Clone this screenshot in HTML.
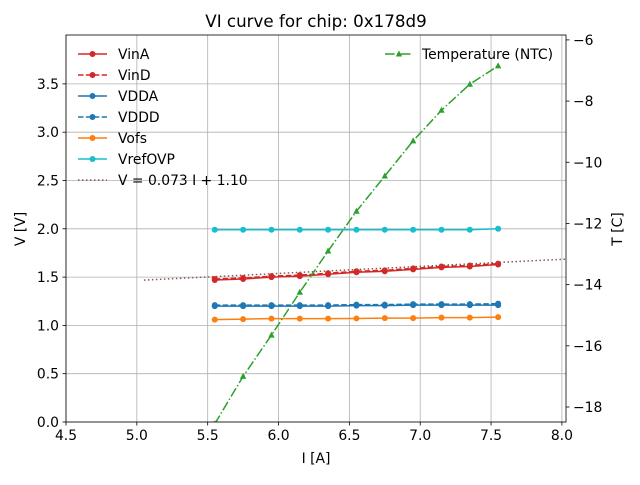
<!DOCTYPE html>
<html><head><meta charset="utf-8"><style>
body{margin:0;background:#fff}
svg{font-family:"DejaVu Sans","Liberation Sans",sans-serif}
</style></head><body>
<svg id="chart" width="640" height="480" viewBox="0 0 640 480"></svg>
<script>
const currents=[5.55,5.75,5.95,6.15,6.35,6.55,6.75,6.95,7.15,7.35,7.55];
const vinA=[1.47,1.48,1.50,1.51,1.53,1.55,1.56,1.58,1.60,1.61,1.63];
const vinD=[1.48,1.49,1.51,1.52,1.54,1.56,1.57,1.59,1.61,1.62,1.64];
const vdda=[1.20,1.20,1.20,1.20,1.20,1.205,1.205,1.21,1.21,1.21,1.21];
const vddd=[1.21,1.21,1.21,1.21,1.21,1.215,1.215,1.22,1.22,1.22,1.225];
const vofs=[1.06,1.065,1.07,1.07,1.07,1.072,1.075,1.075,1.08,1.08,1.085];
const vrefovp=[1.99,1.99,1.99,1.99,1.99,1.99,1.99,1.99,1.99,1.99,2.0];
const temperature=[-18.55,-17.0,-15.65,-14.25,-12.9,-11.6,-10.45,-9.3,-8.3,-7.45,-6.85];
const fitSlope=0.073, fitIntercept=1.10, fitRange=[5.05,8.05];
const xTicks=[4.5,5.0,5.5,6.0,6.5,7.0,7.5,8.0];
const yTicks=[0.0,0.5,1.0,1.5,2.0,2.5,3.0,3.5];
const tTicks=[-6,-8,-10,-12,-14,-16,-18];

const L=66,R=566,T=35,B=422;
const xMin=4.5,xMax=8.029,yMin=0,yMax=4.006,tMin=-18.49,tMax=-5.84;
const X=v=>L+(v-xMin)/(xMax-xMin)*(R-L);
const Y=v=>B-(v-yMin)/(yMax-yMin)*(B-T);
const TY=v=>B-(v-tMin)/(tMax-tMin)*(B-T);
const svg=document.getElementById('chart');
const NS='http://www.w3.org/2000/svg';
const FS=13.9;
function mk(tag,attrs,parent){const e=document.createElementNS(NS,tag);for(const k in attrs)e.setAttribute(k,attrs[k]);(parent||svg).appendChild(e);return e;}
function txt(s,x,y,attrs,parent){const e=mk('text',Object.assign({x:x,y:y,'font-size':FS,fill:'#000'},attrs||{}),parent);e.textContent=s;return e;}

const defs=mk('defs',{});
const cp=mk('clipPath',{id:'clip'},defs);mk('rect',{x:L,y:T,width:R-L,height:B-T},cp);

xTicks.forEach(v=>{const g=mk('line',{x1:X(v),x2:X(v),y1:T,y2:B,stroke:'#b0b0b0','stroke-width':0.8});

});
yTicks.forEach(v=>{const g=mk('line',{x1:L,x2:R,y1:Y(v),y2:Y(v),stroke:'#b0b0b0','stroke-width':0.8});

});

const plot=mk('g',{'clip-path':'url(#clip)'});



function series(name,vals,color,dash,marker,yfn){
  const g=mk('g',{},plot);
  
  
  const pts=currents.map((c,i)=>X(c)+','+yfn(vals[i])).join(' ');
  mk('polyline',{points:pts,fill:'none',stroke:color,'stroke-width':1.5,'stroke-dasharray':dash||''},g);
  currents.forEach((c,i)=>{
    if(marker==='tri'){const x=X(c),y=yfn(vals[i]);mk('polygon',{points:`${x},${y-3.5} ${x-3.2},${y+2.5} ${x+3.2},${y+2.5}`,fill:color},g);}
    else mk('circle',{cx:X(c),cy:yfn(vals[i]),r:3,fill:color},g);
  });
}
series('vina-series',vinA,'#d62728','', 'o',Y);
series('vind-series',vinD,'#d62728','5.5,2.4','o',Y);
series('vdda-series',vdda,'#1f77b4','', 'o',Y);
series('vddd-series',vddd,'#1f77b4','5.5,2.4','o',Y);
series('vofs-series',vofs,'#ff7f0e','', 'o',Y);
series('vrefovp-series',vrefovp,'#17becf','', 'o',Y);
const fit=mk('line',{x1:X(fitRange[0]),y1:Y(fitSlope*fitRange[0]+fitIntercept),x2:X(fitRange[1]),y2:Y(fitSlope*fitRange[1]+fitIntercept),stroke:'#8c564b','stroke-width':1.5,'stroke-dasharray':'1.5,2.5'},plot);


series('temperature-series',temperature,'#2ca02c','9.6,2.4,1.5,2.4','tri',TY);

mk('rect',{x:L,y:T,width:R-L,height:B-T,fill:'none',stroke:'#000','stroke-width':0.8});

xTicks.forEach(v=>{mk('line',{x1:X(v),x2:X(v),y1:B,y2:B+3.5,stroke:'#000','stroke-width':0.8});
const t=txt(v.toFixed(1),X(v),B+18,{'text-anchor':'middle'});

});
yTicks.forEach(v=>{mk('line',{x1:L-3.5,x2:L,y1:Y(v),y2:Y(v),stroke:'#000','stroke-width':0.8});
const t=txt(v.toFixed(1),L-7,Y(v)+5,{'text-anchor':'end'});

});
tTicks.forEach(v=>{mk('line',{x1:R,x2:R+3.5,y1:TY(v),y2:TY(v),stroke:'#000','stroke-width':0.8});
const t=txt(String(v).replace('-','\u2212'),R+7,TY(v)+5,{});

});

const title=txt('VI curve for chip: 0x178d9',316,27,{'font-size':16.7,'text-anchor':'middle'});

const xl=txt('I [A]',316,463,{'text-anchor':'middle'});

const yl=txt('V [V]',25,229,{'text-anchor':'middle',transform:'rotate(-90 25 229)'});

const tl=txt('T [C]',622,229,{'text-anchor':'middle',transform:'rotate(-90 622 229)'});


const leg=[['VinA','#d62728','','o'],['VinD','#d62728','5.5,2.4','o'],['VDDA','#1f77b4','','o'],['VDDD','#1f77b4','5.5,2.4','o'],['Vofs','#ff7f0e','','o'],['VrefOVP','#17becf','','o'],['V = 0.073 I + 1.10','#8c564b','1.5,2.5','']];
leg.forEach((e,i)=>{const y=54+i*21;const g=mk('g',{});


mk('line',{x1:78,x2:107,y1:y,y2:y,stroke:e[1],'stroke-width':1.5,'stroke-dasharray':e[2]},g);
if(e[3])mk('circle',{cx:92.5,cy:y,r:3,fill:e[1]},g);
txt(e[0],118,y+5,{},g);});
const g2=mk('g',{});


mk('line',{x1:385,x2:413,y1:54,y2:54,stroke:'#2ca02c','stroke-width':1.5,'stroke-dasharray':'9.6,2.4,1.5,2.4'},g2);
mk('polygon',{points:'399,50.5 395.8,56.5 402.2,56.5',fill:'#2ca02c'},g2);
txt('Temperature (NTC)',422,59,{},g2);
</script>
</body></html>
